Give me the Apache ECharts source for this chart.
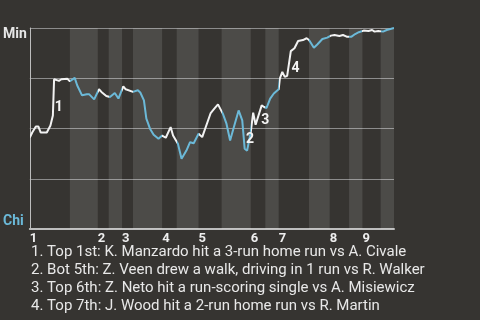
<!DOCTYPE html>
<html>
<head>
<meta charset="utf-8">
<script src="https://cdn.jsdelivr.net/npm/echarts@6/dist/echarts.min.js"></script>
<style>
  html, body { margin: 0; padding: 0; background: #363431; }
  #chart { width: 480px; height: 320px; }
</style>
</head>
<body>
<div id="chart"></div>
<script>
// Win probability for Minnesota, by pitch of the game
const pitchNo = [
  0, 2, 5, 7, 9, 14, 17, 19, 20, 24, 26, 31, 33, 37, 39, 43, 47, 49, 53, 57,
  59, 63, 66, 70, 73, 77, 79, 85, 89, 91, 94, 96, 99, 102, 106, 109, 112, 116, 118, 122,
  125, 129, 132, 135, 139, 142, 149, 152, 155, 159, 162, 165, 168, 172, 175, 177, 179, 182, 184, 186,
  191, 193, 195, 198, 201, 205, 206, 208, 210, 212, 215, 218, 221, 225, 228, 230, 234, 237, 241, 245,
  248, 251, 255, 258, 261, 265, 268, 271, 275, 279, 282, 284, 287, 291, 294, 297, 300
];
const minWinPct = [
  45.5, 48, 51, 51, 48, 48, 51.5, 56.5, 74.5, 73.7, 74.5, 74.7, 73.5, 75.2, 71.5, 66.5, 67, 67, 64.5, 69.5,
  68.2, 66.2, 65.7, 67.7, 64.9, 71, 69.5, 68.2, 69, 67.9, 64, 54.9, 49.9, 46.9, 44.9, 46.5, 45.4, 50.7, 46.5, 42.4,
  34.9, 39, 43.2, 42.7, 47.4, 45.7, 57.7, 59.9, 62, 57.4, 52.4, 44, 50.5, 59, 54, 39.9, 39, 48.2, 57.9, 51.9,
  61.5, 60.7, 60.2, 64.9, 67.4, 69.5, 74.9, 78.2, 75.7, 76.2, 88.5, 89.9, 93.5, 94, 94.9, 94, 90.2, 91.9, 94.5, 95.2,
  96.2, 96.5, 96, 96.5, 95.7, 95.7, 97, 97.9, 98.7, 98.5, 99, 98.2, 98.5, 98.2, 99, 99.5, 100
];

// First pitch of each half-inning (top 1st, bottom 1st, top 2nd, ...)
const halfInningStart = [0, 33, 56, 65, 76, 85, 109, 121, 139, 158, 182, 194, 205, 230, 247, 263, 274, 289];
const lastPitch = 300;
const inningNames = ['1', '2', '3', '4', '5', '6', '7', '8', '9'];

// Key plays: pitch before and after each scoring play
const noteFrom = [17, 175, 186, 212];
const noteTo = [20, 177, 191, 215];
const noteText = [
  '1. Top 1st: K. Manzardo hit a 3-run home run vs A. Civale',
  '2. Bot 5th: Z. Veen drew a walk, driving in 1 run vs R. Walker',
  '3. Top 6th: Z. Neto hit a run-scoring single vs A. Misiewicz',
  '4. Top 7th: J. Wood hit a 2-run home run vs R. Martin'
];

const WHITE = '#f2f2f2';
const BLUE = '#6bb9d8';
const FONT = 'Roboto, "Noto Sans", sans-serif';

const lineData = pitchNo.map((p, i) => [p, minWinPct[i]]);
const pctAt = p => minWinPct[pitchNo.indexOf(p)];

const halfEnd = i => (i + 1 < halfInningStart.length ? halfInningStart[i + 1] : lastPitch);

// Shaded bands for the bottom halves (Chicago batting)
const bands = [];
halfInningStart.forEach((s, i) => {
  if (i % 2 === 1) bands.push([{ xAxis: s }, { xAxis: halfEnd(i) }]);
});

// Line colour follows the batting team of each half-inning
const pieces = halfInningStart.map((s, i) => {
  const piece = { gte: s, color: i % 2 === 0 ? WHITE : BLUE };
  if (i + 1 < halfInningStart.length) piece.lt = halfEnd(i); else piece.lte = lastPitch;
  return piece;
});

const inningStarts = halfInningStart.filter((_, i) => i % 2 === 0);

const noteMarks = noteFrom.map((f, i) => [
  (f + noteTo[i]) / 2,
  (pctAt(f) + pctAt(noteTo[i])) / 2
]);

const chart = echarts.init(document.getElementById('chart'), null, { renderer: 'canvas' });
chart.setOption({
  animation: false,
  backgroundColor: '#363431',
  grid: { left: 29, right: 86, top: 28, bottom: 91 },
  xAxis: {
    type: 'value',
    min: 0,
    max: lastPitch,
    splitLine: { show: false },
    axisTick: { show: false },
    axisLine: { show: true, lineStyle: { color: '#bdbdbd', width: 2 } },
    axisLabel: {
      customValues: inningStarts,
      formatter: v => inningNames[inningStarts.indexOf(v)] || '',
      align: 'left',
      margin: 3,
      color: '#eeeeee',
      fontFamily: FONT,
      fontWeight: 'bold',
      fontSize: 13
    }
  },
  yAxis: {
    type: 'value',
    min: 0,
    max: 100,
    interval: 25,
    axisTick: { show: false },
    axisLine: { show: true, lineStyle: { color: '#bdbdbd', width: 1 } },
    splitLine: { show: true, lineStyle: { color: '#8c8c8c', width: 1 } },
    axisLabel: {
      margin: 3,
      formatter: v => (v === 100 ? '{min|Min}' : v === 0 ? '{chi|Chi}' : ''),
      rich: {
        min: { color: '#e6e6e6', fontFamily: FONT, fontWeight: 'bold', fontSize: 14, padding: [12, 0, 0, 0] },
        chi: { color: BLUE, fontFamily: FONT, fontWeight: 'bold', fontSize: 14, padding: [0, 3, 16, 0] }
      }
    }
  },
  visualMap: {
    show: false,
    type: 'piecewise',
    dimension: 0,
    seriesIndex: 1,
    pieces: pieces
  },
  series: [
    {
      type: 'line',
      data: [],
      z: 1,
      silent: true,
      markArea: {
        silent: true,
        itemStyle: { color: 'rgba(255,255,255,0.115)' },
        data: bands
      }
    },
    {
      type: 'line',
      data: lineData,
      z: 3,
      symbol: 'none',
      lineStyle: { width: 2 }
    },
    {
      type: 'scatter',
      data: noteMarks,
      z: 4,
      symbolSize: 1,
      itemStyle: { color: 'rgba(0,0,0,0)' },
      emphasis: { disabled: true },
      label: {
        show: true,
        position: 'right',
        distance: 2,
        offset: [0, 5],
        formatter: p => String(p.dataIndex + 1),
        color: '#f4f4f4',
        opacity: 1,
        textBorderWidth: 0,
        fontFamily: FONT,
        fontWeight: 'bold',
        fontSize: 14
      }
    }
  ],
  graphic: [
    {
      type: 'text',
      left: 31,
      top: 243,
      style: {
        text: noteText.join('\n'),
        fill: '#e8e8e8',
        font: '15px ' + FONT,
        lineHeight: 18
      }
    }
  ]
});
</script>
</body>
</html>
